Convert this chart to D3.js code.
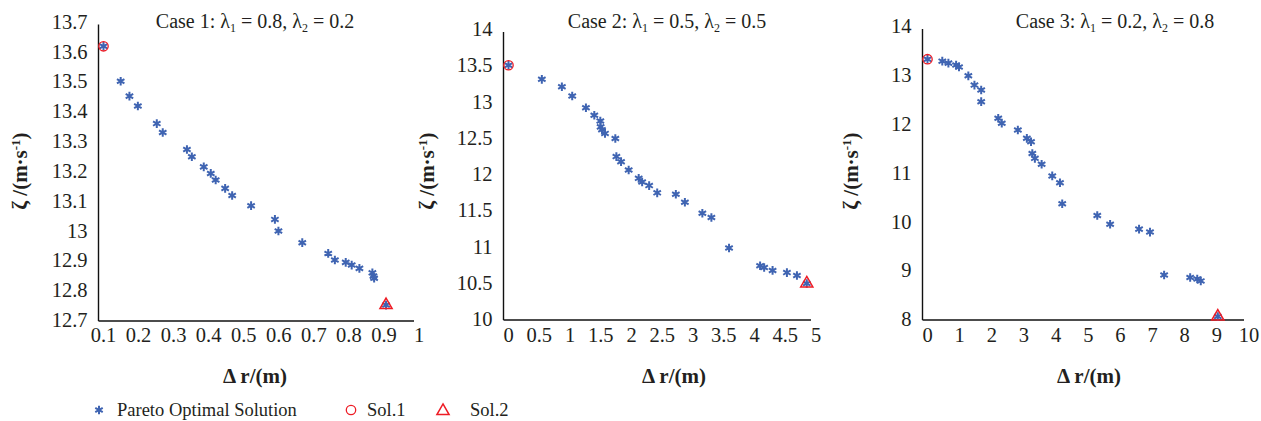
<!DOCTYPE html>
<html>
<head>
<meta charset="utf-8">
<script src="https://cdn.jsdelivr.net/npm/d3@7"></script>
<style>
  html, body { margin: 0; padding: 0; background: #fff; }
  svg { display: block; }
</style>
</head>
<body>
<svg id="chart" width="1261" height="421"></svg>
<script>
// ---- data ----
var case1X = [0.1, 0.149, 0.174, 0.198, 0.252, 0.269, 0.338, 0.352, 0.386, 0.406, 0.420, 0.447, 0.467,
              0.521, 0.589, 0.599, 0.667, 0.741, 0.760, 0.791, 0.808, 0.830, 0.867, 0.870, 0.872, 0.906];
var case1Y = [13.617, 13.50, 13.45, 13.417, 13.358, 13.328, 13.271, 13.247, 13.213, 13.191, 13.169, 13.141, 13.117,
              13.083, 13.037, 12.998, 12.959, 12.923, 12.901, 12.893, 12.884, 12.873, 12.858, 12.847, 12.840, 12.75];

var case2X = [0, 0.542, 0.868, 1.036, 1.259, 1.395, 1.493, 1.498, 1.52, 1.569, 1.737, 1.754, 1.83, 1.954,
              2.117, 2.173, 2.287, 2.418, 2.721, 2.868, 3.152, 3.299, 3.586, 4.091, 4.157, 4.294, 4.527, 4.69, 4.85];
var case2Y = [13.50, 13.306, 13.204, 13.076, 12.914, 12.81, 12.73, 12.65, 12.61, 12.56, 12.49, 12.24, 12.17, 12.055,
              11.94, 11.89, 11.84, 11.74, 11.72, 11.61, 11.458, 11.40, 10.98, 10.735, 10.71, 10.67, 10.64, 10.60, 10.49];

var case3X = [0, 0.46, 0.65, 0.89, 0.98, 1.27, 1.46, 1.67, 1.67, 2.20, 2.31, 2.81, 3.09, 3.22, 3.26, 3.34,
              3.55, 3.88, 4.12, 4.19, 5.28, 5.68, 6.58, 6.92, 7.36, 8.17, 8.39, 8.50, 9.03];
var case3Y = [13.32, 13.28, 13.24, 13.20, 13.16, 12.98, 12.79, 12.69, 12.45, 12.11, 12.01, 11.87, 11.70, 11.63, 11.39, 11.29,
              11.17, 10.93, 10.79, 10.36, 10.12, 9.94, 9.84, 9.78, 8.90, 8.85, 8.82, 8.78, 8.05];

var case1XTicks = [0.1, 0.2, 0.3, 0.4, 0.5, 0.6, 0.7, 0.8, 0.9, 1];
var case1YTicks = [12.7, 12.8, 12.9, 13, 13.1, 13.2, 13.3, 13.4, 13.5, 13.6, 13.7];
var case2XTicks = [0, 0.5, 1, 1.5, 2, 2.5, 3, 3.5, 4, 4.5, 5];
var case2YTicks = [10, 10.5, 11, 11.5, 12, 12.5, 13, 13.5, 14];
var case3XTicks = [0, 1, 2, 3, 4, 5, 6, 7, 8, 9, 10];
var case3YTicks = [8, 9, 10, 11, 12, 13, 14];

var caseTitles = [["Case 1: ", "0.8", "0.2"], ["Case 2: ", "0.5", "0.5"], ["Case 3: ", "0.2", "0.8"]];
var legendLabels = ["Pareto Optimal Solution", "Sol.1", "Sol.2"];

// ---- layout ----
var blue = "#3f64b2", red = "#ee1c25";
var serif = "'Liberation Serif', 'Times New Roman', Times, 'DejaVu Serif', serif";

var panels = [
    { xs: case1X, ys: case1Y, xt: case1XTicks, yt: case1YTicks, title: caseTitles[0],
      xr: [103.5, 419], yr: [320, 21.5], titleX: 255, xTitleX: 255, yTitleX: 27 },
    { xs: case2X, ys: case2Y, xt: case2XTicks, yt: case2YTicks, title: caseTitles[1],
      xr: [508.5, 816], yr: [319, 29], titleX: 667, xTitleX: 674, yTitleX: 434 },
    { xs: case3X, ys: case3Y, xt: case3XTicks, yt: case3YTicks, title: caseTitles[2],
      xr: [927.5, 1249], yr: [319, 26], titleX: 1115, xTitleX: 1089, yTitleX: 858 }
];

var svg = d3.select("#chart")
    .attr("font-family", serif)
    .style("font-family", serif);

var star = d3.symbol().type(d3.symbolAsterisk).size(52);
var tri = d3.symbol().type(d3.symbolTriangle).size(64);

panels.forEach(function(p) {

    var x = d3.scaleLinear().domain(d3.extent(p.xt)).range(p.xr);
    var y = d3.scaleLinear().domain(d3.extent(p.yt)).range(p.yr);

    var g = svg.append("g").attr("fill", "#231f20");

    // the drawn axis frame sits a few px left / below the value grid
    var ax = p.xr[0] - 5, ay = p.yr[0] + 1;

    g.append("line")
        .attr("x1", ax).attr("x2", ax)
        .attr("y1", p.yr[1] + 3).attr("y2", ay)
        .attr("stroke", "#111").attr("stroke-width", 1.4);
    g.append("line")
        .attr("x1", ax).attr("x2", p.xr[1] - 5)
        .attr("y1", ay).attr("y2", ay)
        .attr("stroke", "#111").attr("stroke-width", 1.4);

    // tick labels
    g.selectAll(".yl").data(p.yt).enter().append("text")
        .attr("x", ax - 11)
        .attr("y", function(d) { return y(d); })
        .attr("dy", "0.35em")
        .attr("text-anchor", "end")
        .style("font-size", "20.5px")
        .text(function(d) { return d3.format("~g")(d); });

    g.selectAll(".xl").data(p.xt).enter().append("text")
        .attr("x", function(d) { return x(d); })
        .attr("y", 342)
        .attr("text-anchor", "middle")
        .style("font-size", "20.5px")
        .text(function(d) { return d3.format("~g")(d); });

    // title with lambda subscripts
    var t = g.append("text")
        .attr("x", p.titleX).attr("y", 28)
        .attr("text-anchor", "middle")
        .style("font-size", "20px");
    t.append("tspan").text(p.title[0] + "λ");
    t.append("tspan").attr("dy", 4).style("font-size", "12px").text("1");
    t.append("tspan").attr("dy", -4).text(" = " + p.title[1] + ", λ");
    t.append("tspan").attr("dy", 4).style("font-size", "12px").text("2");
    t.append("tspan").attr("dy", -4).text(" = " + p.title[2]);

    // axis titles
    g.append("text")
        .attr("x", p.xTitleX).attr("y", 383)
        .attr("text-anchor", "middle")
        .style("font-size", "21px").style("font-weight", "bold")
        .text("Δ r/(m)");

    var yt = g.append("text")
        .attr("transform", "translate(" + p.yTitleX + ",171) rotate(-90)")
        .attr("text-anchor", "middle")
        .style("font-size", "21px").style("font-weight", "bold");
    yt.append("tspan").text("ζ /(m·s");
    yt.append("tspan").attr("dy", -7).style("font-size", "13px").text("-1");
    yt.append("tspan").attr("dy", 7).text(")");

    // pareto points
    var pts = d3.zip(p.xs, p.ys);
    g.selectAll(".pt").data(pts).enter().append("path")
        .attr("d", star)
        .attr("transform", function(d) { return "translate(" + x(d[0]) + "," + y(d[1]) + ")"; })
        .attr("fill", "none").attr("stroke", blue).attr("stroke-width", 2);

    // Sol.1 = first point, Sol.2 = last point
    var s1 = pts[0], s2 = pts[pts.length - 1];
    g.append("circle")
        .attr("cx", x(s1[0])).attr("cy", y(s1[1])).attr("r", 4.7)
        .attr("fill", "none").attr("stroke", red).attr("stroke-width", 1.3);
    g.append("path")
        .attr("d", tri)
        .attr("transform", "translate(" + x(s2[0]) + "," + y(s2[1]) + ")")
        .attr("fill", "none").attr("stroke", red).attr("stroke-width", 1.5);
});

// legend
var lg = svg.append("g").attr("fill", "#231f20");
lg.append("path").attr("d", star).attr("transform", "translate(99,410)")
    .attr("fill", "none").attr("stroke", blue).attr("stroke-width", 2);
lg.append("circle").attr("cx", 351).attr("cy", 410).attr("r", 4.7)
    .attr("fill", "none").attr("stroke", red).attr("stroke-width", 1.3);
lg.append("path").attr("d", tri).attr("transform", "translate(443,411)")
    .attr("fill", "none").attr("stroke", red).attr("stroke-width", 1.5);

lg.selectAll(".lt").data(legendLabels).enter().append("text")
    .attr("x", function(d, i) { return [117, 367, 470][i]; })
    .attr("y", 416)
    .style("font-size", "18.5px")
    .text(function(d) { return d; });
</script>
</body>
</html>
